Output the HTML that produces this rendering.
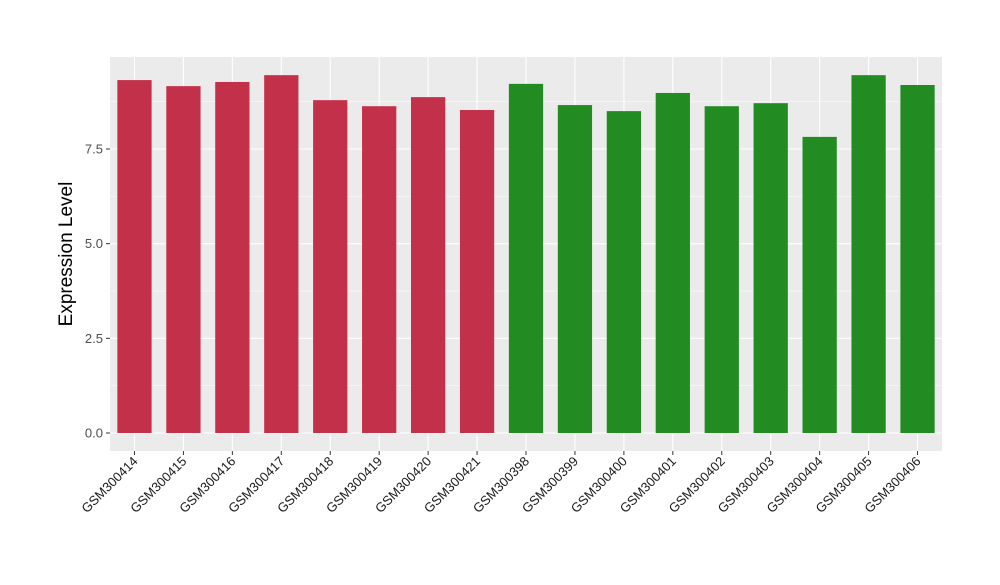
<!DOCTYPE html>
<html><head><meta charset="utf-8"><style>
body{margin:0;background:#fff;font-family:"Liberation Sans",sans-serif}
</style></head><body>
<svg id="chart" width="1000" height="580" xmlns="http://www.w3.org/2000/svg">
<rect x="110" y="57" width="832" height="394" fill="#ebebeb"/>
<g id="grid"></g><g id="bars"></g><g id="axes"></g>
<text x="72" y="254" font-size="19" text-anchor="middle" transform="rotate(-90 72 254)" fill="#000">Expression Level</text>
</svg>
<script>
const categories=["GSM300414","GSM300415","GSM300416","GSM300417","GSM300418","GSM300419","GSM300420","GSM300421","GSM300398","GSM300399","GSM300400","GSM300401","GSM300402","GSM300403","GSM300404","GSM300405","GSM300406"];
const values=[9.32,9.16,9.27,9.45,8.79,8.63,8.87,8.53,9.22,8.66,8.50,8.98,8.63,8.71,7.82,9.45,9.19];
const groups=["a","a","a","a","a","a","a","a","b","b","b","b","b","b","b","b","b"];
const yTicks=[0,2.5,5,7.5];
const yTickLabels=["0.0","2.5","5.0","7.5"];
const colors={a:"#c3304a",b:"#228b22"};
const NS="http://www.w3.org/2000/svg";
const px0=110,pw=832,y0=433,k=(433-149)/7.5;
const step=pw/categories.length,bw=step*0.7;
const x=i=>px0+step*(i+0.5);
const y=v=>y0-v*k;
function mk(t,a,p){const e=document.createElementNS(NS,t);for(const n in a)e.setAttribute(n,a[n]);p.appendChild(e);return e;}
const grid=document.getElementById('grid'),bars=document.getElementById('bars'),axes=document.getElementById('axes');
for(let i=0;i<yTicks.length;i++){
 const g=mk('line',{x1:px0,x2:px0+pw,y1:y(yTicks[i]),y2:y(yTicks[i]),stroke:'#fff','stroke-width':1.1},grid);
 
 
 if(i<yTicks.length-1){const m=mk('line',{x1:px0,x2:px0+pw,y1:y((yTicks[i]+yTicks[i+1])/2),y2:y((yTicks[i]+yTicks[i+1])/2),stroke:'#fff','stroke-width':0.5},grid);
 
 }
 const tk=mk('line',{x1:px0-4,x2:px0,y1:y(yTicks[i]),y2:y(yTicks[i]),stroke:'#333'},axes);
 
 
 const t=mk('text',{x:px0-7,y:y(yTicks[i])+4.5,'font-size':13,'text-anchor':'end',fill:'#4d4d4d'},axes);
 
 
 t.textContent=yTickLabels[i];
}
{const m=mk('line',{x1:px0,x2:px0+pw,y1:y(8.75),y2:y(8.75),stroke:'#fff','stroke-width':0.5},grid);
 
 }
categories.forEach((c,i)=>{
 const gl=mk('line',{x1:x(i),x2:x(i),y1:57,y2:451,stroke:'#fff','stroke-width':1.1},grid);
 
 
 const r=mk('rect',{x:x(i)-bw/2,y:y(values[i]),width:bw,height:y(0)-y(values[i]),fill:colors[groups[i]]},bars);
 
 
 const tk=mk('line',{x1:x(i),x2:x(i),y1:451,y2:455,stroke:'#333'},axes);
 
 
 const t=mk('text',{x:x(i)+4,y:462,'font-size':13,'text-anchor':'end',fill:'#1a1a1a',transform:`rotate(-45 ${x(i)+4} 462)`},axes);
 
 
 t.textContent=c;
});
</script>
</body></html>
